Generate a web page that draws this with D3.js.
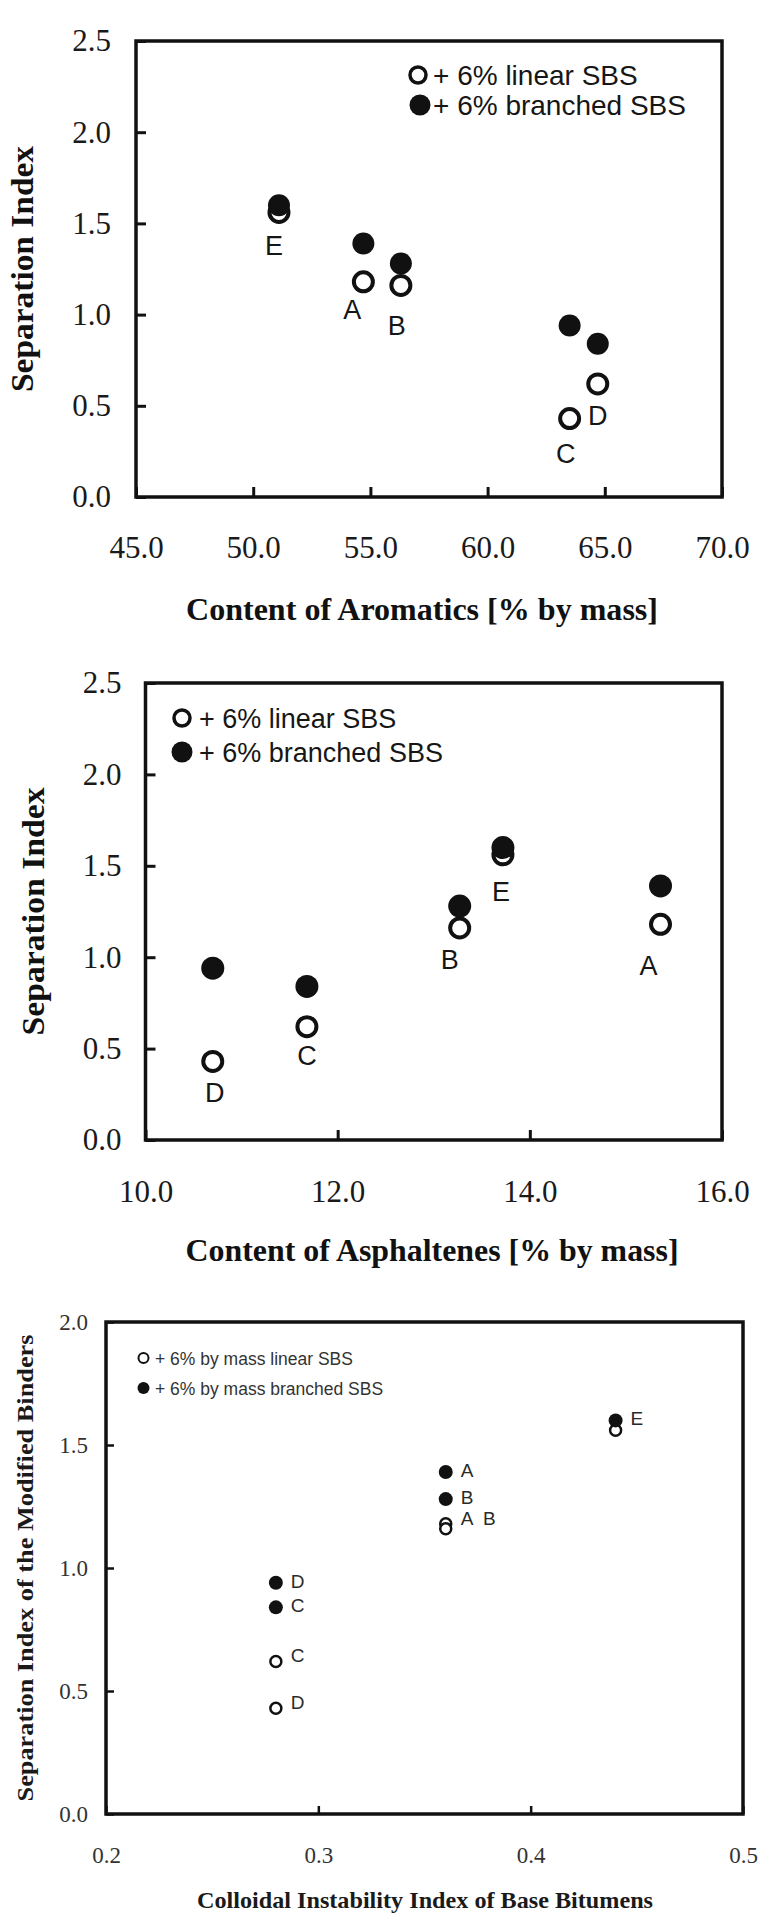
<!DOCTYPE html>
<html>
<head>
<meta charset="utf-8">
<script src="https://cdn.jsdelivr.net/npm/d3@7"></script>
<style>
  body { margin: 0; background: #fff; }
  svg { display: block; }
</style>
</head>
<body>
<svg id="fig" width="759" height="1923"></svg>
<script>
// Base bitumens A–E, each modified with 6 % SBS (linear or branched)
const samples = ["A", "B", "C", "D", "E"];
const linearSI = [1.18, 1.16, 0.62, 0.43, 1.56];    // separation index, + 6% linear SBS
const branchedSI = [1.39, 1.28, 0.84, 0.94, 1.60];  // separation index, + 6% branched SBS

// Base bitumen composition
const aromatics = [54.7, 56.3, 64.7, 63.5, 51.1];        // % by mass
const asphaltenes = [15.36, 13.27, 11.68, 10.70, 13.72]; // % by mass
const cii = [0.36, 0.36, 0.28, 0.28, 0.44];              // colloidal instability index

// Point labels as printed on each panel
const aromaticsLabels = ["A", "B", "D", "C", "E"];
const asphaltenesLabels = ["A", "B", "C", "D", "E"];
const ciiLabelsLinear = ["A  B", "", "C", "D", ""];
const ciiLabelsBranched = ["A", "B", "C", "D", "E"];

// Axis ticks
const ticksSI25 = [0, 0.5, 1.0, 1.5, 2.0, 2.5];
const ticksSI20 = [0, 0.5, 1.0, 1.5, 2.0];
const ticksAromatics = [45, 50, 55, 60, 65, 70];
const ticksAsphaltenes = [10, 12, 14, 16];
const ticksCII = [0.2, 0.3, 0.4, 0.5];

const SERIF = "'Liberation Serif', 'Times New Roman', serif";
const SANS = "'Liberation Sans', Arial, sans-serif";
const INK = "#111";

const svg = d3.select("#fig");

function panel(cfg) {
  const g = svg.append("g");
  const x = d3.scaleLinear().domain(cfg.xDomain).range([cfg.left, cfg.right]);
  const y = d3.scaleLinear().domain(cfg.yDomain).range([cfg.bottom, cfg.top]);
  const fmt = d3.format(".1f");

  // y axis (ticks pointing into the frame)
  g.append("g")
    .attr("transform", `translate(${cfg.left},0)`)
    .call(d3.axisLeft(y).tickValues(cfg.yTicks).tickFormat(fmt)
      .tickSizeInner(-cfg.tickLen).tickSizeOuter(0).tickPadding(cfg.yPad))
    .call(a => a.select(".domain").remove())
    .call(a => a.selectAll("line").attr("stroke", INK).attr("stroke-width", cfg.tickWidth))
    .call(a => a.selectAll("text").attr("fill", cfg.tickColor)
      .attr("font-family", SERIF).attr("font-size", cfg.tickFont));

  // x axis
  g.append("g")
    .attr("transform", `translate(0,${cfg.bottom})`)
    .call(d3.axisBottom(x).tickValues(cfg.xTicks).tickFormat(fmt)
      .tickSizeInner(-cfg.tickLen).tickSizeOuter(0).tickPadding(cfg.xPad))
    .call(a => a.select(".domain").remove())
    .call(a => a.selectAll("line").attr("stroke", INK).attr("stroke-width", cfg.tickWidth))
    .call(a => a.selectAll("text").attr("fill", cfg.tickColor)
      .attr("font-family", SERIF).attr("font-size", cfg.tickFont));

  // frame
  g.append("rect")
    .attr("x", cfg.left).attr("y", cfg.top)
    .attr("width", cfg.right - cfg.left).attr("height", cfg.bottom - cfg.top)
    .attr("fill", "none").attr("stroke", INK).attr("stroke-width", cfg.frameWidth);

  // axis titles
  g.append("text")
    .attr("transform", `translate(${cfg.yTitleX},${(cfg.top + cfg.bottom) / 2}) rotate(-90)`)
    .attr("text-anchor", "middle")
    .attr("font-family", SERIF).attr("font-weight", "bold")
    .attr("font-size", cfg.titleFont).attr("fill", cfg.titleColor)
    .attr("textLength", cfg.yTitleLen).attr("lengthAdjust", "spacingAndGlyphs")
    .text(cfg.yTitle);

  g.append("text")
    .attr("x", cfg.xTitleX).attr("y", cfg.xTitleY)
    .attr("text-anchor", "middle")
    .attr("font-family", SERIF).attr("font-weight", "bold")
    .attr("font-size", cfg.titleFont).attr("fill", cfg.titleColor)
    .attr("textLength", cfg.xTitleLen).attr("lengthAdjust", "spacingAndGlyphs")
    .text(cfg.xTitle);

  // data points: open = linear SBS, filled = branched SBS
  const pts = samples.map((s, i) => ({ s, i, xv: cfg.xValues[i] }));

  g.append("g").selectAll("circle").data(pts).join("circle")
    .attr("cx", d => x(d.xv)).attr("cy", d => y(linearSI[d.i]))
    .attr("r", cfg.openR).attr("fill", "#fff")
    .attr("stroke", INK).attr("stroke-width", cfg.openStroke);

  g.append("g").selectAll("circle").data(pts).join("circle")
    .attr("cx", d => x(d.xv)).attr("cy", d => y(branchedSI[d.i]))
    .attr("r", cfg.fillR).attr("fill", INK);

  cfg.drawLabels(g, pts, x, y);

  // legend
  const lg = g.append("g");
  cfg.legend.forEach(item => {
    lg.append("circle")
      .attr("cx", item.cx).attr("cy", item.cy).attr("r", item.r)
      .attr("fill", item.filled ? INK : "#fff")
      .attr("stroke", INK).attr("stroke-width", item.filled ? 0 : item.sw);
    lg.append("text")
      .attr("x", cfg.legendTextX).attr("y", item.baseline)
      .attr("font-family", SANS).attr("font-size", cfg.legendFont)
      .attr("fill", cfg.legendColor)
      .text(item.text);
  });
}

// labels placed under the open marker of each sample (panels 1 and 2)
function labelsBelow(names, offsets, font) {
  return (g, pts, x, y) => {
    g.append("g").selectAll("text").data(pts).join("text")
      .attr("x", d => x(d.xv) + offsets[d.i][0])
      .attr("y", d => y(linearSI[d.i]) + offsets[d.i][1])
      .attr("dy", "0.36em")
      .attr("text-anchor", "middle")
      .attr("font-family", SANS).attr("font-size", font).attr("fill", "#161616")
      .text(d => names[d.i]);
  };
}

// labels placed to the right of every marker (panel 3)
function labelsRight(g, pts, x, y) {
  const rows = [];
  pts.forEach(d => {
    if (ciiLabelsBranched[d.i]) rows.push({ xv: d.xv, yv: branchedSI[d.i], t: ciiLabelsBranched[d.i] });
    if (ciiLabelsLinear[d.i]) rows.push({ xv: d.xv, yv: linearSI[d.i], t: ciiLabelsLinear[d.i], up: 4 });
  });
  g.append("g").selectAll("text").data(rows).join("text")
    .attr("x", d => x(d.xv) + 15)
    .attr("y", d => y(d.yv) - 2 - (d.up || 0))
    .attr("dy", "0.36em")
    .attr("font-family", SANS).attr("font-size", 19).attr("fill", "#2a2a2a")
    .attr("xml:space", "preserve")
    .text(d => d.t);
}

// Panel 1: separation index vs aromatics
panel({
  left: 136, right: 722, top: 41, bottom: 497,
  xDomain: [45, 70], yDomain: [0, 2.5],
  xTicks: ticksAromatics, yTicks: ticksSI25,
  xValues: aromatics,
  tickLen: 10, tickWidth: 3, frameWidth: 3.5,
  tickFont: 31, tickColor: "#1a1a1a", yPad: 25, xPad: 39,
  titleFont: 32, titleColor: "#111",
  yTitle: "Separation Index", yTitleX: 33, yTitleLen: 246,
  xTitle: "Content of Aromatics [% by mass]", xTitleX: 422, xTitleY: 620, xTitleLen: 472,
  openR: 9.5, openStroke: 4, fillR: 11,
  drawLabels: labelsBelow(aromaticsLabels,
    [[-11, 28], [-4, 40], [0, 31], [-4, 35], [-5, 33]], 27),
  legendTextX: 433, legendFont: 28, legendColor: "#161616",
  legend: [
    { cx: 418, cy: 75, r: 8, sw: 3.5, filled: false, baseline: 85, text: "+ 6% linear SBS" },
    { cx: 420, cy: 105, r: 10.5, filled: true, baseline: 115, text: "+ 6% branched SBS" }
  ]
});

// Panel 2: separation index vs asphaltenes
panel({
  left: 145.5, right: 722, top: 683, bottom: 1140,
  xDomain: [10, 16], yDomain: [0, 2.5],
  xTicks: ticksAsphaltenes, yTicks: ticksSI25,
  xValues: asphaltenes,
  tickLen: 10, tickWidth: 3, frameWidth: 3.5,
  tickFont: 31, tickColor: "#1a1a1a", yPad: 24, xPad: 40,
  titleFont: 32, titleColor: "#111",
  yTitle: "Separation Index", yTitleX: 44, yTitleLen: 248,
  xTitle: "Content of Asphaltenes [% by mass]", xTitleX: 432, xTitleY: 1261, xTitleLen: 493,
  openR: 9.5, openStroke: 4, fillR: 11.5,
  drawLabels: labelsBelow(asphaltenesLabels,
    [[-12, 41], [-10, 31], [0, 29], [2, 31], [-2, 36]], 27),
  legendTextX: 199, legendFont: 27, legendColor: "#161616",
  legend: [
    { cx: 182, cy: 718, r: 8, sw: 3.5, filled: false, baseline: 728, text: "+ 6% linear SBS" },
    { cx: 182, cy: 752, r: 10.5, filled: true, baseline: 762, text: "+ 6% branched SBS" }
  ]
});

// Panel 3: separation index vs colloidal instability index
panel({
  left: 106, right: 743, top: 1322, bottom: 1814,
  xDomain: [0.2, 0.5], yDomain: [0, 2.0],
  xTicks: ticksCII, yTicks: ticksSI20,
  xValues: cii,
  tickLen: 8, tickWidth: 2.5, frameWidth: 3.5,
  tickFont: 23, tickColor: "#333", yPad: 18, xPad: 33,
  titleFont: 24, titleColor: "#1a1a1a",
  yTitle: "Separation Index of the Modified Binders", yTitleX: 33, yTitleLen: 467,
  xTitle: "Colloidal Instability Index of Base Bitumens", xTitleX: 425, xTitleY: 1908, xTitleLen: 456,
  openR: 5.5, openStroke: 2.5, fillR: 7,
  drawLabels: labelsRight,
  legendTextX: 155, legendFont: 17.5, legendColor: "#333",
  legend: [
    { cx: 143.5, cy: 1358, r: 5, sw: 2, filled: false, baseline: 1365, text: "+ 6% by mass linear SBS" },
    { cx: 143.5, cy: 1388, r: 6, filled: true, baseline: 1395, text: "+ 6% by mass branched SBS" }
  ]
});
</script>
</body>
</html>
